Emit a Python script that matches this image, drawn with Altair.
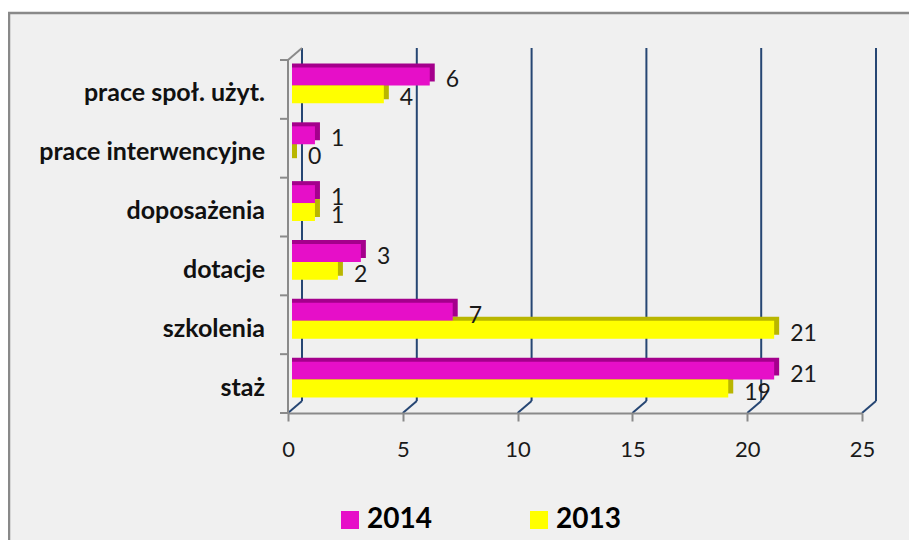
import altair as alt
import pandas as pd

# ---- data ----
categories = ["prace społ. użyt.", "prace interwencyjne", "doposażenia", "dotacje", "szkolenia", "staż"]
years = ["2014", "2013"]
values_2014 = [6, 1, 1, 3, 7, 21]
values_2013 = [4, 0, 1, 2, 21, 19]
x_ticks = [0, 5, 10, 15, 20, 25]

# ---- styling / layout constants ----
FRONT = ["#E60FC8", "#FFFF00"]
SHADE = ["#A4008C", "#B9B600"]
GRID = "#264673"
AXIS = "#8A8A8A"
OUTER = 0.195          # outer padding of each category band (fraction)
DX, DY = 14, -12       # 3D depth offset of the back wall

W, H = 574, 353

rows = []
for i, c in enumerate(categories):
    for j, (yr, vals) in enumerate(zip(years, [values_2014, values_2013])):
        y0 = i + OUTER + j * (0.5 - OUTER)
        y1 = y0 + (0.5 - OUTER)
        rows.append({"cat": c, "year": yr, "value": vals[i],
                     "y0": y0, "y1": y1, "ym": (y0 + y1) / 2})
bars = pd.DataFrame(rows)
cats = pd.DataFrame({"cat": categories, "mid": [i + 0.5 for i in range(len(categories))]})
ticks = pd.DataFrame({"t": x_ticks})
bounds = pd.DataFrame({"b": list(range(len(categories) + 1))})
one = pd.DataFrame({"a": [0]})

xs = alt.Scale(domain=[0, 25], nice=False, zero=True)
ys = alt.Scale(domain=[0, len(categories)], reverse=True, nice=False, zero=False)
X_AXIS = alt.Axis(
    values=x_ticks, grid=False, title=None, domainColor=AXIS, domainWidth=2,
    tickColor=AXIS, tickWidth=2, tickSize=8, labelFont="Lato", labelFontSize=22,
    labelColor="#1A1A1A", labelBaseline="middle", labelPadding=28, labelFlush=False,
    zindex=1)


def Yd(v):
    return alt.Y(datum=v, type="quantitative", scale=ys, axis=None)


def Xd(v):
    return alt.X(datum=v, type="quantitative", scale=xs, axis=X_AXIS)


def Xf(f):
    return alt.X(f, type="quantitative", scale=xs, axis=X_AXIS)


# chart box: grey fill with left and top border (right/bottom lie outside the window)
box_fill = alt.Chart(one).mark_rect(fill="#F0F0F0").encode(
    x=alt.value(-279), x2=alt.value(800), y=alt.value(-47), y2=alt.value(700)
)
box_left = alt.Chart(one).mark_rule(color="#898989", strokeWidth=2.5).encode(
    x=alt.value(-279), y=alt.value(-47), y2=alt.value(700)
)
box_top = alt.Chart(one).mark_rule(color="#898989", strokeWidth=2.5).encode(
    x=alt.value(-280), x2=alt.value(800), y=alt.value(-47)
)

back_grid = alt.Chart(ticks).mark_rule(color=GRID, strokeWidth=2, xOffset=DX, yOffset=DY, y2Offset=DY).encode(
    x=Xf("t"), y=Yd(0), y2=alt.Y2(datum=len(categories))
)

floor_grid = alt.Chart(ticks).mark_rule(color=GRID, strokeWidth=2, x2Offset=DX, y2Offset=DY).encode(
    x=Xf("t"), x2=alt.X2("t:Q"),
    y=Yd(len(categories)), y2=alt.Y2(datum=len(categories))
)

y_line = alt.Chart(one).mark_rule(color=AXIS, strokeWidth=2).encode(
    x=Xd(0), y=Yd(0), y2=alt.Y2(datum=len(categories))
)
y_top = alt.Chart(one).mark_rule(color=AXIS, strokeWidth=2, x2Offset=DX, y2Offset=DY).encode(
    x=Xd(0), x2=alt.X2(datum=0), y=Yd(0), y2=alt.Y2(datum=0)
)
y_ticks = alt.Chart(bounds).mark_rule(color=AXIS, strokeWidth=2).encode(
    x=alt.value(-8), x2=alt.value(0), y=alt.Y("b:Q", scale=ys, axis=None)
)

cat_labels = alt.Chart(cats).mark_text(
    align="right", baseline="middle", font="Lato", fontWeight="bold", fontSize=25, color="#111111", dy=4
).encode(x=alt.value(-23), y=alt.Y("mid:Q", scale=ys, axis=None), text="cat:N")

shadows = alt.Chart(bars).mark_rect(xOffset=4 + 5, x2Offset=4, yOffset=-8, y2Offset=-8).encode(
    x=Xf("value"), x2=alt.X2(datum=0),
    y=alt.Y("y0:Q", scale=ys, axis=None), y2="y1:Q",
    color=alt.Color("year:N", scale=alt.Scale(domain=years, range=SHADE), legend=None),
)

fronts = alt.Chart(bars).mark_rect(xOffset=4, x2Offset=4, yOffset=-4, y2Offset=-4).encode(
    x=Xf("value"), x2=alt.X2(datum=0),
    y=alt.Y("y0:Q", scale=ys, axis=None), y2="y1:Q",
    color=alt.Color("year:N", scale=alt.Scale(domain=years, range=FRONT), legend=alt.Legend(
        title=None, orient="none", legendX=48, legendY=446, direction="horizontal",
        symbolType="square", symbolSize=324, symbolStrokeWidth=0,
        labelFont="Lato", labelFontSize=28, labelFontWeight="bold", labelColor="#000000",
        columnPadding=93, labelOffset=3, padding=0)),
)

value_labels = alt.Chart(bars).mark_text(
    align="left", baseline="middle", font="Lato", fontSize=23, color="#1A1A1A", dx=20
).encode(
    x=Xf("value"), y=alt.Y("ym:Q", scale=ys, axis=None), text="value:Q"
)

chart = alt.layer(
    box_fill, box_left, box_top, back_grid, floor_grid, y_line, y_top, y_ticks, cat_labels,
    shadows, fronts, value_labels
).resolve_scale(color="independent").properties(
    width=W, height=H,
    autosize=alt.AutoSizeParams(type="none"),
    padding={"left": 280, "top": 52, "right": 47, "bottom": 127},
    background="white",
).configure_view(stroke=None)

chart.save("out.html", embed_options={"renderer": "svg", "actions": False})
